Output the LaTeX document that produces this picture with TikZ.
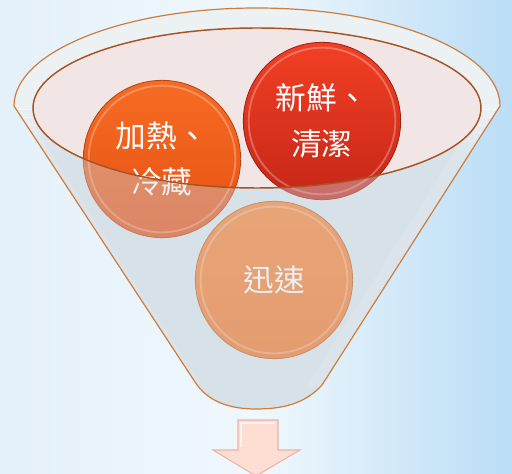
\documentclass[tikz,border=0pt]{standalone}
\usepackage{fontspec}
\newfontfamily\cjk{Noto Sans CJK TC}
\definecolor{bgL}{RGB}{228,240,250}
\definecolor{bgM}{RGB}{240,248,253}
\definecolor{bgR}{RGB}{186,221,246}
\definecolor{funback}{RGB}{222,232,237}
\definecolor{funover}{RGB}{205,215,225}
\definecolor{innerfill}{RGB}{242,229,230}
\definecolor{rimline}{RGB}{205,125,60}
\definecolor{innerline}{RGB}{165,85,35}
\definecolor{cAt}{RGB}{246,108,36}
\definecolor{cAb}{RGB}{230,80,18}
\definecolor{cBt}{RGB}{242,64,36}
\definecolor{cBb}{RGB}{198,38,24}
\definecolor{cCt}{RGB}{250,132,50}
\definecolor{cCb}{RGB}{244,118,36}
\definecolor{arrowfill}{RGB}{253,222,211}
\definecolor{arrowedge}{RGB}{238,178,160}
\tikzset{
  ball/.style={circle, minimum size=118pt, inner sep=0pt, draw=#1!80!black, line width=0.6pt,
     text=white, align=center, font=\cjk\fontsize{23}{34}\selectfont},
  bevel/.style={draw=white, opacity=0.28, line width=1.4pt}
}
\begin{document}
\begin{tikzpicture}[x=0.75pt,y=-0.75pt]
\useasboundingbox (0,0) rectangle (512,474);
\clip (0,0) rectangle (512,474);
% background
\shade[left color=bgL, right color=bgR, middle color=bgM] (0,0) rectangle (512,474);
\def\funnelpath{(14,106) arc[start angle=180,end angle=0,x radius=182.25pt,y radius=73.5pt] -- (322,385) .. controls (305,404) and (282,409) .. (256,409) .. controls (230,409) and (208,402) .. (195,382) -- cycle}
\def\innerpath{(257,108) ellipse[x radius=168pt,y radius=60pt]}
% funnel back
\fill[funback] \funnelpath;
\begin{scope}
  \clip \funnelpath;
  \fill[white, opacity=0.3] (502,106) -- (324,387) -- (306,387) -- (484,106) -- cycle;
  \fill[white, opacity=0.25] (12,106) -- (193,384) -- (200,384) -- (20,106) -- cycle;
\end{scope}
\fill[innerfill] \innerpath;
% balls
\node[ball=cAb, top color=cAt, bottom color=cAb] (c1) at (162,159) {加熱、\\冷藏};
\node[ball=cBb, top color=cBt, bottom color=cBb] (c2) at (322,121) {新鮮、\\清潔};
\node[ball=cCb, top color=cCt, bottom color=cCb] (c3) at (274,280) {迅速};
\draw[bevel] (c1.center) circle[radius=55pt];
\draw[bevel] (c2.center) circle[radius=55pt];
\draw[bevel] (c3.center) circle[radius=55pt];
% front face overlay
\fill[funover, opacity=0.4, even odd rule] \funnelpath \innerpath;
% rim highlight, fading downwards in steps
\foreach \ya/\yb/\op in {0/110/0.55, 110/118/0.45, 118/126/0.36, 126/134/0.27, 134/142/0.19, 142/150/0.12, 150/160/0.06}{
\begin{scope}
  \clip \funnelpath;
  \clip (0,\ya) rectangle (512,\yb);
  \fill[white, opacity=\op, even odd rule] (257,106) ellipse[x radius=182.25pt,y radius=73.5pt] \innerpath;
\end{scope}
}
% outlines
\draw[rimline, line width=0.9pt] \funnelpath;
\draw[innerline, line width=1.1pt] \innerpath;
% arrow
\draw[arrowedge, fill=arrowfill, line width=0.8pt, line join=miter]
  (238,420) -- (278,420) -- (278,450) -- (300,450) -- (256,476) -- (213,450) -- (238,450) -- cycle;
\draw[white, opacity=0.6, line width=0.8pt] (241,447) -- (241,423) -- (275,423);
\end{tikzpicture}
\end{document}
